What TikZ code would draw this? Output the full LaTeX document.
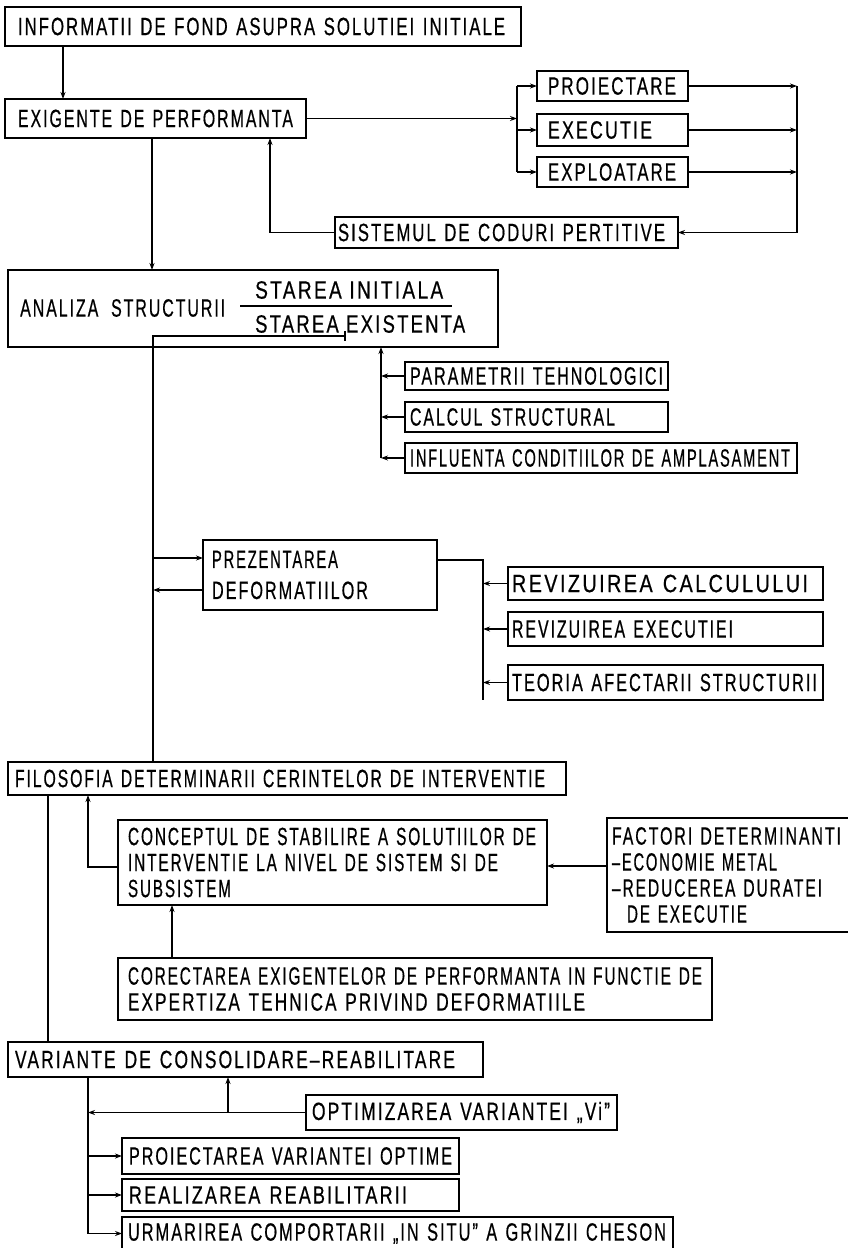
\documentclass[tikz,border=0pt]{standalone}
\usepackage{fontspec}
\usepackage{graphicx}
\setmainfont{Liberation Sans}[FakeStretch=0.65,LetterSpace=8,FakeBold=0.5]
\usetikzlibrary{arrows.meta}
% set a line of lettering to a given width (in pt), keeping its height
\newsavebox\lettbox
\newcommand\fitto[2]{\sbox\lettbox{#2}\pgfmathsetmacro\fitratio{#1/\the\wd\lettbox}\scalebox{\fitratio}[1]{\usebox\lettbox}}
\begin{document}
\begin{tikzpicture}[x=1pt,y=-1pt,
  every node/.style={font=\fontsize{25}{26}\selectfont},
  box/.style={draw, line width=1.2pt, anchor=north west, outer sep=0pt,
    inner xsep=8pt, inner ysep=0pt, align=left},
  line/.style={line width=1.2pt},
  arr/.style={line width=1.2pt, -{Stealth[length=7pt,width=5pt]}},
]
\useasboundingbox (0,0) rectangle (847,1248);
\fill[white] (0,0) rectangle (847,1248);

% ---- boxes ----
\node[box, inner xsep=13pt, text width=490pt, minimum height=39pt] (info) at (5,7) {\fitto{487}{INFORMATII DE FOND ASUPRA SOLUTIEI INITIALE}};
\node[box, inner xsep=13pt, text width=275pt, minimum height=39pt] (exig) at (5,99) {\fitto{275}{EXIGENTE DE PERFORMANTA}};
\node[box, inner xsep=11pt, text width=129pt, minimum height=30pt] (proi) at (537,71) {\fitto{128}{PROIECTARE}};
\node[box, inner xsep=11pt, text width=129pt, minimum height=32pt] (exec) at (537,114) {\fitto{104}{EXECUTIE}};
\node[box, inner xsep=11pt, text width=129pt, minimum height=30pt] (expl) at (537,157) {\fitto{128}{EXPLOATARE}};
\node[box, inner xsep=3pt, text width=337pt, minimum height=31pt] (sist) at (335,217) {\fitto{327}{SISTEMUL DE CODURI PERTITIVE}};

\node[box, inner sep=0pt, minimum width=490pt, minimum height=77pt] (anal) at (8,270) {};
\node[anchor=west, inner sep=0pt] (analt) at (20,308) {\fitto{205}{ANALIZA\ \ STRUCTURII}};
\node[anchor=west, inner sep=0pt] (sinit) at (255,290) {\fitto{188}{STAREA INITIALA}};
\node[anchor=west, inner sep=0pt] (sexis) at (255,324) {\fitto{210}{STAREA EXISTENTA}};
\draw[line] (240,306) -- (452,306);

\node[box, inner xsep=5pt, text width=253pt, minimum height=28pt] (param) at (405,362) {\fitto{253}{PARAMETRII TEHNOLOGICI}};
\node[box, inner xsep=5pt, text width=253pt, minimum height=30pt] (calc) at (405,402) {\fitto{205}{CALCUL STRUCTURAL}};
\node[box, inner xsep=5pt, text width=382pt, minimum height=30pt] (infl) at (405,443) {\fitto{380}{INFLUENTA CONDITIILOR DE AMPLASAMENT}};

\node[box, inner xsep=9pt, text width=216pt, minimum height=70pt] (prez) at (203,540) {\fitto{126}{PREZENTAREA}\\[5pt]\fitto{156}{DEFORMATIILOR}};
\node[box, inner xsep=4pt, text width=307pt, minimum height=33pt] (revc) at (508,567) {\fitto{296}{REVIZUIREA CALCULULUI}};
\node[box, inner xsep=4pt, text width=307pt, minimum height=34pt] (reve) at (508,612) {\fitto{221}{REVIZUIREA EXECUTIEI}};
\node[box, inner xsep=4pt, text width=307pt, minimum height=35pt] (teor) at (508,665) {\fitto{305}{TEORIA AFECTARII STRUCTURII}};

\node[box, inner xsep=7pt, text width=544pt, minimum height=33pt] (filo) at (8,762) {\fitto{530}{FILOSOFIA DETERMINARII CERINTELOR DE INTERVENTIE}};
\node[box, inner xsep=10pt, text width=409pt, minimum height=85pt] (conc) at (118,820) {\fitto{408}{CONCEPTUL DE STABILIRE A SOLUTIILOR DE}\\\fitto{370}{INTERVENTIE LA NIVEL DE SISTEM SI DE}\\\fitto{103}{SUBSISTEM}};
% this box runs on past the right margin
\node[box, inner xsep=5pt, text width=236pt, minimum height=114pt] (fact) at (607,818) {\fitto{229}{FACTORI DETERMINANTI}\\\fitto{165}{–ECONOMIE METAL}\\\fitto{210}{–REDUCEREA DURATEI}\\\hspace*{15pt}\fitto{120}{DE EXECUTIE}};
\node[box, inner xsep=10pt, text width=574pt, minimum height=62pt] (corr) at (118,958) {\fitto{574}{CORECTAREA EXIGENTELOR DE PERFORMANTA IN FUNCTIE DE}\\\fitto{457}{EXPERTIZA TEHNICA PRIVIND DEFORMATIILE}};

\node[box, inner xsep=7pt, text width=461pt, minimum height=35pt] (vari) at (8,1042) {\fitto{440}{VARIANTE DE CONSOLIDARE–REABILITARE}};
\node[box, inner xsep=6pt, text width=299pt, minimum height=35pt] (optim) at (306,1095) {\fitto{298}{OPTIMIZAREA VARIANTEI „Vi”}};
\node[box, inner xsep=7pt, text width=323pt, minimum height=36pt] (pvo) at (122,1138) {\fitto{323}{PROIECTAREA VARIANTEI OPTIME}};
\node[box, inner xsep=7pt, text width=323pt, minimum height=32pt] (real) at (122,1179) {\fitto{278}{REALIZAREA REABILITARII}};
\node[box, inner xsep=6pt, text width=539pt, minimum height=33pt] (urm) at (122,1217) {\fitto{538}{URMARIREA COMPORTARII „IN SITU” A GRINZII CHESON}};

% ---- connectors: upper part ----
\draw[arr] (63,0 |- info.south) -- (63,0 |- exig.north);
\draw[arr] (exig.east) -- (exig.east -| 517,0);
\draw[line] (517,0 |- proi.west) -- (517,0 |- expl.west);
\draw[arr] (517,0 |- proi.west) -- (proi.west);
\draw[arr] (517,0 |- exec.west) -- (exec.west);
\draw[arr] (517,0 |- expl.west) -- (expl.west);
\draw[arr] (proi.east) -- (proi.east -| 797,0);
\draw[arr] (exec.east) -- (exec.east -| 797,0);
\draw[arr] (expl.east) -- (expl.east -| 797,0);
\draw[line] (797,0 |- proi.east) -- (797,0 |- sist.east);
\draw[arr] (797,0 |- sist.east) -- (sist.east);
\draw[arr] (sist.west) -- (sist.west -| 270,0) -- (270,0 |- exig.south);
\draw[arr] (152,0 |- exig.south) -- (152,0 |- anal.north);

% ---- structural analysis and deformations ----
\draw[line] (345,331) -- (345,341);
\draw[line] (345,336) -- (153,336) -- (153,0 |- filo.north);
\draw[arr] (381,0 |- infl.west) -- (381,0 |- anal.south);
\draw[arr] (param.west) -- (param.west -| 381,0);
\draw[arr] (calc.west) -- (calc.west -| 381,0);
\draw[arr] (infl.west) -- (infl.west -| 381,0);
\draw[arr] (153,558) -- (prez.west |- 0,558);
\draw[arr] (prez.west |- 0,590) -- (153,590);
\draw[line] (prez.east |- 0,560) -- (483,560) -- (483,700);
\draw[arr] (revc.west) -- (revc.west -| 483,0);
\draw[arr] (reve.west) -- (reve.west -| 483,0);
\draw[arr] (teor.west) -- (teor.west -| 483,0);

% ---- intervention philosophy ----
\draw[arr] (conc.west |- 0,867) -- (88,867) -- (88,0 |- filo.south);
\draw[arr] (fact.west |- 0,866) -- (conc.east |- 0,866);
\draw[arr] (172,0 |- corr.north) -- (172,0 |- conc.south);
\draw[line] (48,0 |- filo.south) -- (48,0 |- vari.north);

% ---- variants ----
\draw[line] (88,0 |- vari.south) -- (88,0 |- urm.west);
\draw[arr] (optim.west) -- (optim.west -| 88,0);
\draw[arr] (228,0 |- optim.west) -- (228,0 |- vari.south);
\draw[arr] (pvo.west -| 88,0) -- (pvo.west);
\draw[arr] (real.west -| 88,0) -- (real.west);
\draw[arr] (urm.west -| 88,0) -- (urm.west);
\end{tikzpicture}
\end{document}
